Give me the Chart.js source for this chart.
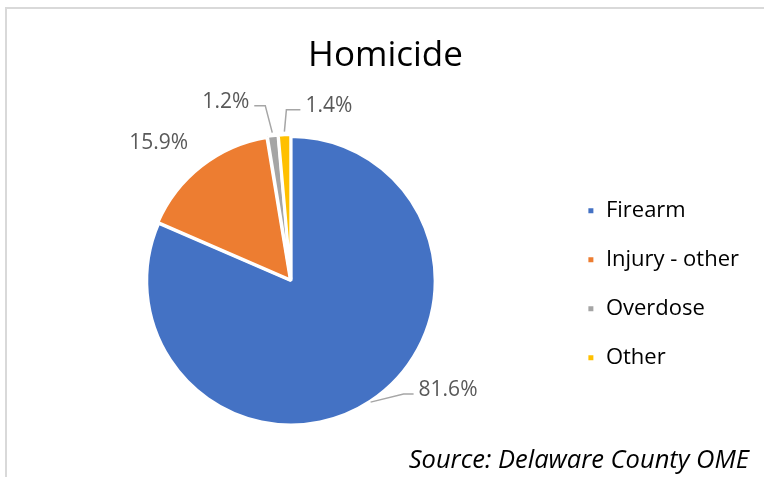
<!DOCTYPE html>
<html>
<head>
<meta charset="utf-8">
<script src="https://cdn.jsdelivr.net/npm/chart.js"></script>
<style>
  html, body { margin: 0; padding: 0; background: #fff; }
  #wrap { position: relative; width: 764px; height: 477px; overflow: hidden; }
  #frame {
    position: absolute; left: 5px; top: 7px; width: 900px; height: 600px;
    border-left: 2px solid #d9d9d9; border-top: 2px solid #d9d9d9;
    pointer-events: none;
  }
</style>
</head>
<body>
<div id="wrap">
  <canvas id="homicideChart" width="764" height="477"></canvas>
  <div id="frame"></div>
</div>
<script>
// Homicide by cause
const causes = ["Firearm", "Injury - other", "Overdose", "Other"];
const shares = [81.6, 15.9, 1.2, 1.4];
const sliceColors = ["#4472C4", "#ED7D31", "#A5A5A5", "#FFC000"];

// Label placement per slice (pixels relative to the slice edge)
const labelSpots = [
  { elbow: [33, -8], tail: 10, line: true },
  { elbow: [-11, -20], tail: 0, line: false },
  { elbow: [-7, -27], tail: -11, line: true },
  { elbow: [2, -22], tail: 14, line: true },
];

const pieLabels = {
  id: "pieLabels",
  afterDatasetsDraw(chart) {
    const ctx = chart.ctx;
    const meta = chart.getDatasetMeta(0);
    const offsets = chart.data.datasets[0].offset;
    ctx.save();
    ctx.font = "21px 'Open Sans'";
    ctx.textBaseline = "middle";
    meta.data.forEach((arc, i) => {
      const p = arc.getProps(["x", "y", "startAngle", "endAngle", "outerRadius"], true);
      const mid = (p.startAngle + p.endAngle) / 2;
      const rr = p.outerRadius + offsets[i] + 1;
      const ex = p.x + Math.cos(mid) * rr;
      const ey = p.y + Math.sin(mid) * rr;
      const spot = labelSpots[i];
      const bx = ex + spot.elbow[0];
      const by = ey + spot.elbow[1];
      const tx = bx + spot.tail;
      const text = shares[i].toFixed(1) + "%";
      if (spot.line) {
        ctx.strokeStyle = "#a6a6a6";
        ctx.lineWidth = 1.5;
        ctx.beginPath();
        ctx.moveTo(ex, ey);
        ctx.lineTo(bx, by);
        ctx.lineTo(tx, by);
        ctx.stroke();
      }
      const right = spot.line ? spot.tail < 0 : true;
      ctx.fillStyle = "#595959";
      ctx.textAlign = right ? "right" : "left";
      const gap = spot.line ? 5 : 0;
      ctx.fillText(text, right ? tx - gap : tx + gap, spot.line ? by - 4 : by);
    });
    ctx.restore();
  }
};

new Chart(document.getElementById("homicideChart"), {
  type: "pie",
  data: {
    labels: causes,
    datasets: [{
      data: shares,
      backgroundColor: sliceColors,
      borderColor: "#ffffff",
      borderWidth: 3,
      offset: [0, 4, 4, 4],
    }],
  },
  options: {
    responsive: false,
    animation: false,
    layout: { padding: { top: 6, left: 22, right: 15, bottom: 0 } },
    plugins: {
      title: {
        display: true,
        text: "Homicide",
        color: "#000",
        font: { family: "'Open Sans'", size: 35, weight: "normal" },
        padding: { top: 29, bottom: 56 },
      },
      subtitle: {
        display: true,
        position: "bottom",
        align: "end",
        text: "Source: Delaware County OME",
        color: "#000",
        font: { family: "'Open Sans'", size: 25.5, style: "italic" },
        padding: { top: 17, bottom: 1 },
      },
      legend: {
        position: "right",
        title: { display: true, text: "", font: { size: 12 }, padding: { top: 71, bottom: 0 } },
        labels: {
          color: "#000",
          font: { family: "'Open Sans'", size: 22 },
          boxWidth: 8,
          boxHeight: 8,
          padding: 27,
        },
      },
      tooltip: { enabled: false },
    },
  },
  plugins: [pieLabels],
});
</script>
</body>
</html>
